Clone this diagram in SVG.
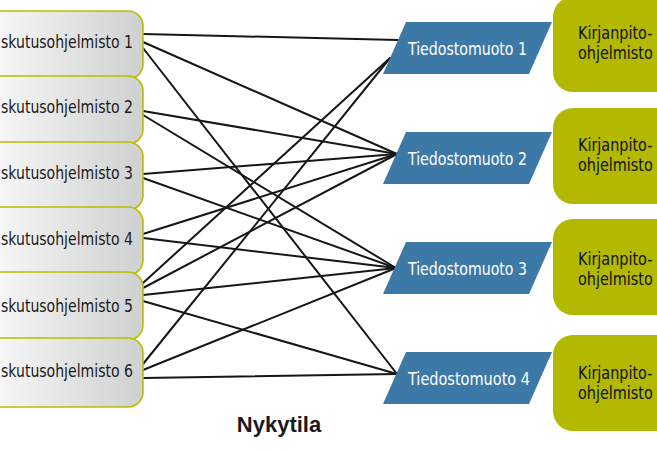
<svg xmlns="http://www.w3.org/2000/svg" width="657" height="450" viewBox="0 0 657 450">
<defs>
<linearGradient id="gl" gradientUnits="userSpaceOnUse" x1="0" y1="0" x2="143" y2="0">
<stop offset="0" stop-color="#f6f6f6"/>
<stop offset="1" stop-color="#cfd0d0"/>
</linearGradient>
<style>
.lb{fill:url(#gl);stroke:#b7be00;stroke-width:1.6}
.lt{font-family:"DejaVu Sans Condensed","Liberation Sans",sans-serif;font-size:17px;fill:#1a1a1a}
.pg{fill:#3c79a7}
.pt{font-family:"DejaVu Sans Condensed","Liberation Sans",sans-serif;font-size:17px;fill:#ffffff}
.rb{fill:#b2b900}
.rt{font-family:"DejaVu Sans Condensed","Liberation Sans",sans-serif;font-size:18px;fill:#111111}
.cn{stroke:#161616;stroke-width:2;fill:none;stroke-linecap:round}
.ti{font-family:"Liberation Sans",sans-serif;font-size:22px;font-weight:bold;fill:#1a1a1a}
</style>
</defs>

<g id="connectors">
<line class="cn" x1="143" y1="34" x2="398" y2="40"/>
<line class="cn" x1="143" y1="42" x2="397" y2="154"/>
<line class="cn" x1="143" y1="48" x2="397" y2="374"/>
<line class="cn" x1="143" y1="111" x2="397" y2="154"/>
<line class="cn" x1="143" y1="115" x2="396" y2="268"/>
<line class="cn" x1="143" y1="174" x2="397" y2="154"/>
<line class="cn" x1="143" y1="178" x2="396" y2="268"/>
<line class="cn" x1="143" y1="234" x2="397" y2="154"/>
<line class="cn" x1="143" y1="238" x2="396" y2="268"/>
<line class="cn" x1="143" y1="283" x2="390" y2="58"/>
<line class="cn" x1="143" y1="288" x2="397" y2="154"/>
<line class="cn" x1="143" y1="295" x2="396" y2="268"/>
<line class="cn" x1="143" y1="301" x2="397" y2="374"/>
<line class="cn" x1="143" y1="364" x2="390" y2="58"/>
<line class="cn" x1="143" y1="370" x2="396" y2="268"/>
<line class="cn" x1="143" y1="378" x2="397" y2="374"/>
</g>

<g id="left1"><rect class="lb" x="-30" y="11" width="173" height="68" rx="15"/><text class="lt" x="1" y="48" textLength="132" lengthAdjust="spacingAndGlyphs">skutusohjelmisto 1</text></g>
<g id="left2"><rect class="lb" x="-30" y="76" width="173" height="68" rx="15"/><text class="lt" x="1" y="113" textLength="132" lengthAdjust="spacingAndGlyphs">skutusohjelmisto 2</text></g>
<g id="left3"><rect class="lb" x="-30" y="142" width="173" height="68" rx="15"/><text class="lt" x="1" y="179" textLength="132" lengthAdjust="spacingAndGlyphs">skutusohjelmisto 3</text></g>
<g id="left4"><rect class="lb" x="-30" y="207" width="173" height="68" rx="15"/><text class="lt" x="1" y="245" textLength="132" lengthAdjust="spacingAndGlyphs">skutusohjelmisto 4</text></g>
<g id="left5"><rect class="lb" x="-30" y="272" width="173" height="68" rx="15"/><text class="lt" x="1" y="312" textLength="132" lengthAdjust="spacingAndGlyphs">skutusohjelmisto 5</text></g>
<g id="left6"><rect class="lb" x="-30" y="338" width="173" height="69" rx="15"/><text class="lt" x="1" y="377" textLength="132" lengthAdjust="spacingAndGlyphs">skutusohjelmisto 6</text></g>

<g id="format1"><polygon class="pg" points="406,22 552,22 529,74 383,74"/><text class="pt" x="408" y="55" textLength="119" lengthAdjust="spacingAndGlyphs">Tiedostomuoto 1</text></g>
<g id="format2"><polygon class="pg" points="406,132 552,132 529,184 383,184"/><text class="pt" x="408" y="165" textLength="119" lengthAdjust="spacingAndGlyphs">Tiedostomuoto 2</text></g>
<g id="format3"><polygon class="pg" points="406,242 552,242 529,294 383,294"/><text class="pt" x="408" y="275" textLength="119" lengthAdjust="spacingAndGlyphs">Tiedostomuoto 3</text></g>
<g id="format4"><polygon class="pg" points="406,352 552,352 529,404 383,404"/><text class="pt" x="408" y="385" textLength="122" lengthAdjust="spacingAndGlyphs">Tiedostomuoto 4</text></g>

<g id="right1"><rect class="rb" x="553" y="-3" width="130" height="95" rx="20"/><text class="rt" transform="translate(578,39) scale(0.89,1)">Kirjanpito-</text><text class="rt" transform="translate(578,59) scale(0.89,1)">ohjelmisto</text></g>
<g id="right2"><rect class="rb" x="553" y="108" width="130" height="96" rx="20"/><text class="rt" transform="translate(578,151) scale(0.89,1)">Kirjanpito-</text><text class="rt" transform="translate(578,171) scale(0.89,1)">ohjelmisto</text></g>
<g id="right3"><rect class="rb" x="553" y="219" width="130" height="96" rx="20"/><text class="rt" transform="translate(578,265) scale(0.89,1)">Kirjanpito-</text><text class="rt" transform="translate(578,285) scale(0.89,1)">ohjelmisto 3</text></g>
<g id="right4"><rect class="rb" x="553" y="335" width="130" height="96" rx="20"/><text class="rt" transform="translate(578,379) scale(0.89,1)">Kirjanpito-</text><text class="rt" transform="translate(578,399) scale(0.89,1)">ohjelmisto 4</text></g>

<g id="title"><text class="ti" x="279" y="432" text-anchor="middle">Nykytila</text></g>
</svg>
